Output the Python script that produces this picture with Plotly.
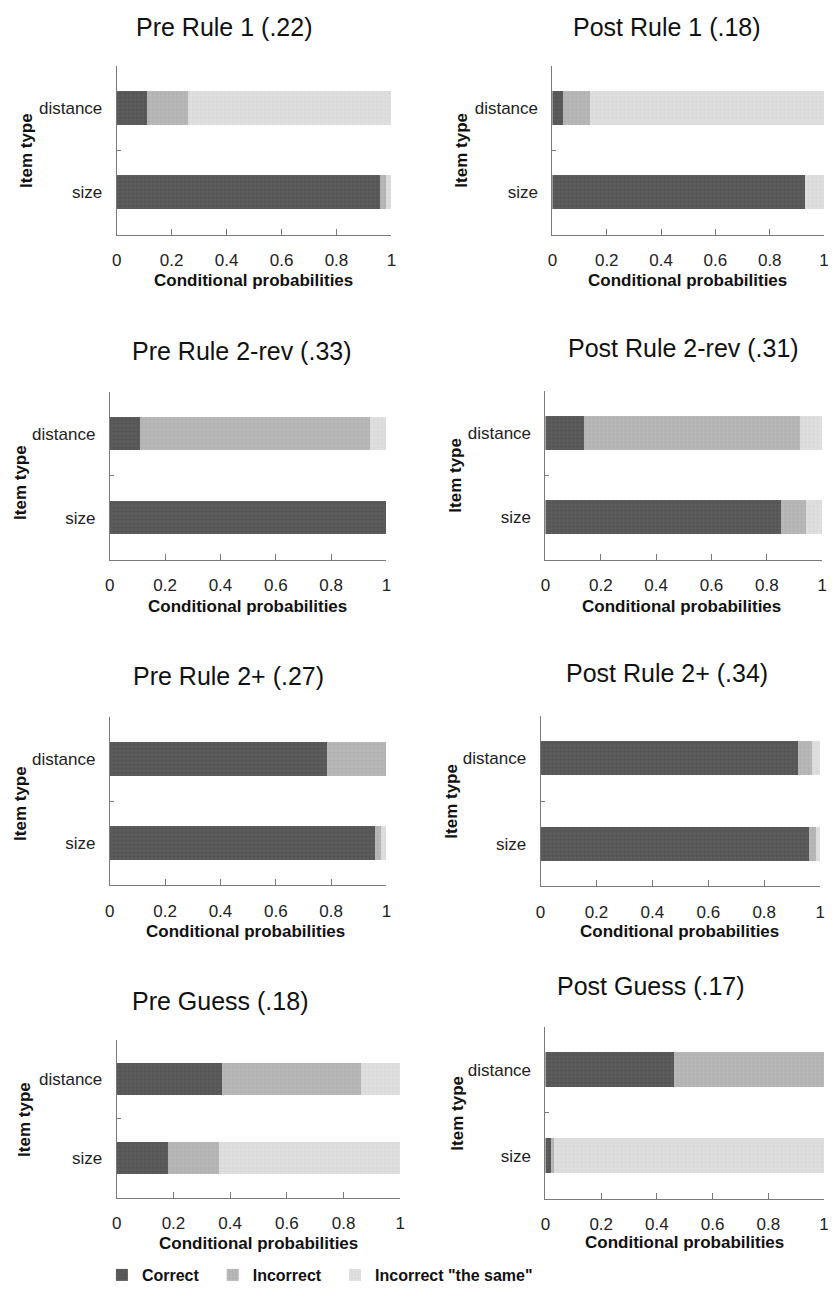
import plotly.graph_objects as go

OFF = 8                      # default page margin of the html body
W, H = 836 - OFF, 1292 - OFF

panel_titles = ["Pre Rule 1 (.22)", "Post Rule 1 (.18)",
                "Pre Rule 2-rev (.33)", "Post Rule 2-rev (.31)",
                "Pre Rule 2+ (.27)", "Post Rule 2+ (.34)",
                "Pre Guess (.18)", "Post Guess (.17)"]
item_types = ["size", "distance"]
series_names = ["Correct", "Incorrect", "Incorrect \"the same\""]

# values per panel: [size, distance]
correct = [[0.96, 0.11], [0.93, 0.04], [1.00, 0.11], [0.85, 0.14],
           [0.96, 0.785], [0.96, 0.92], [0.18, 0.37], [0.02, 0.46]]
incorrect = [[0.02, 0.15], [0.00, 0.10], [0.00, 0.83], [0.09, 0.78],
             [0.02, 0.215], [0.025, 0.05], [0.18, 0.49], [0.01, 0.54]]
same = [[0.02, 0.74], [0.07, 0.86], [0.00, 0.06], [0.06, 0.08],
        [0.02, 0.00], [0.015, 0.03], [0.64, 0.14], [0.97, 0.00]]

x_ticks = [0, 0.2, 0.4, 0.6, 0.8, 1]
x_ticktext = ["0", "0.2", "0.4", "0.6", "0.8", "1"]

colors = ["#565656", "#b3b3b3", "#dbdbdb"]
dot_colors = ["#6a6a6a", "#c4c4c4", "#e8e8e8"]
legend_pad = ["\u00a0\u00a0", "\u00a0\u00a0", ""]

# layout geometry in page pixels (left, right, top, bottom)
boxes = [(113, 391, 66, 236), (554, 829, 66, 236),
         (106, 386, 394, 563), (547, 827, 393, 563),
         (106, 386, 721, 891), (542, 825, 720, 892),
         (113, 400, 1046, 1205), (547, 829, 1033, 1206)]
title_pos = [(222, 27), (670, 27), (240, 353), (687, 350),
             (226, 680), (670, 677), (218, 1007), (654, 992)]
xlab_pos = [(251, 282), (691, 282), (245, 610), (685, 610),
            (243, 937), (683, 937), (257, 1251), (688, 1250)]
ylab_pos = [(21, 151), (462, 151), (15, 485), (455, 478),
            (15, 808), (451, 806), (19, 1126), (457, 1120)]


def px(x):
    return (x - OFF) / W


def py(y):
    return 1 - (y - OFF) / H


FONT = "Liberation Sans, Arial, sans-serif"
fig = go.Figure()
layout = {}
annotations = []

for i in range(8):
    sfx = "" if i == 0 else str(i + 1)
    xa, ya = "x" + sfx, "y" + sfx
    for s, (vals, name) in enumerate(zip([correct, incorrect, same], series_names)):
        fig.add_trace(go.Bar(
            x=vals[i], y=item_types, orientation="h", name=name + legend_pad[s],
            marker=dict(color=colors[s], line=dict(width=0),
                        pattern=dict(shape=".", fgcolor=dot_colors[s],
                                     size=4, solidity=0.25, fillmode="overlay")),
            width=0.4, xaxis=xa, yaxis=ya,
            showlegend=(i == 0), legendgroup=name))
    l, r, t, b = boxes[i]
    layout["xaxis" + sfx] = dict(
        domain=[px(l), px(r)], anchor=ya, range=[0, 1],
        tickvals=x_ticks, ticktext=x_ticktext, ticks="inside", ticklen=6,
        tickcolor="#7a7a7a", showline=True, linecolor="#7a7a7a", linewidth=1,
        showgrid=False, zeroline=False, ticklabelstandoff=10,
        tickfont=dict(family=FONT, size=17, color="#222"), fixedrange=True)
    layout["yaxis" + sfx] = dict(
        domain=[py(b), py(t)], anchor=xa, type="category",
        categoryorder="array", categoryarray=item_types, range=[-0.5, 1.5],
        tickson="boundaries", ticks="inside", ticklen=4, tickcolor="#7a7a7a",
        showline=True, linecolor="#7a7a7a", linewidth=1, showgrid=False,
        zeroline=False, ticklabelstandoff=10,
        tickfont=dict(family=FONT, size=17, color="#222"), fixedrange=True)
    tx, ty = title_pos[i]
    annotations.append(dict(text=panel_titles[i], x=px(tx), y=py(ty),
                            xref="paper", yref="paper", showarrow=False,
                            xanchor="center", yanchor="middle",
                            font=dict(family=FONT, size=25, color="#111")))
    cx, cy = xlab_pos[i]
    annotations.append(dict(text="<b>Conditional probabilities</b>", x=px(cx), y=py(cy),
                            xref="paper", yref="paper", showarrow=False,
                            xanchor="center", yanchor="middle",
                            font=dict(family=FONT, size=17, color="#111")))
    yx, yy = ylab_pos[i]
    annotations.append(dict(text="<b>Item type</b>", x=px(yx), y=py(yy),
                            xref="paper", yref="paper", showarrow=False,
                            textangle=-90, xanchor="center", yanchor="middle",
                            font=dict(family=FONT, size=17, color="#111")))

fig.update_layout(
    width=W, height=H, margin=dict(l=0, r=0, t=0, b=0),
    paper_bgcolor="white", plot_bgcolor="white", barmode="stack",
    annotations=annotations,
    legend=dict(orientation="h", x=px(98), y=py(1266), xanchor="left",
                yanchor="top",
                font=dict(family=FONT, size=16, color="#111", weight="bold"),
                itemwidth=30, tracegroupgap=0, bgcolor="rgba(0,0,0,0)"),
    **layout)

fig.write_html("out.html")
